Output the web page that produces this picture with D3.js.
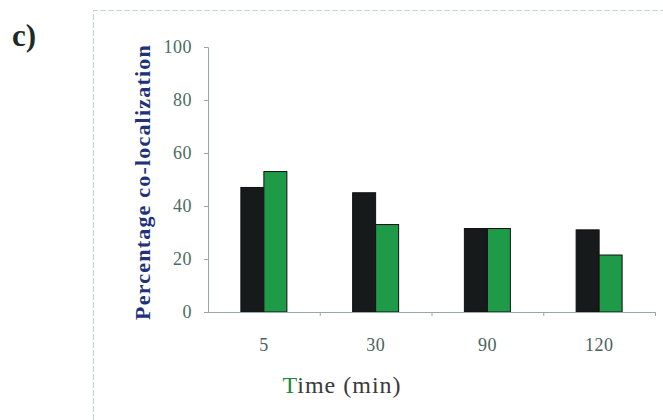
<!DOCTYPE html>
<html><head><meta charset="utf-8">
<script src="https://cdn.jsdelivr.net/npm/d3@7"></script>
<style>body{margin:0;background:#fff;} svg{display:block;}</style>
</head><body>
<script>
const categories = ["5", "30", "90", "120"];
const seriesA = [47, 45, 31.5, 31];   // black bars
const seriesB = [53, 33, 31.5, 21.5]; // green bars
const yTicks = [0, 20, 40, 60, 80, 100];

const W = 663, H = 420;
const svg = d3.select("body").append("svg").attr("width", W).attr("height", H);
const font = "'Liberation Serif', 'Times New Roman', serif";

// frame
svg.append("path").attr("d", `M93.5,${H} V10.5 H${W}`).attr("fill","none")
  .attr("stroke","#c4d6d0").attr("stroke-width",1).attr("stroke-dasharray","6,2");

svg.append("text").attr("x", 12).attr("y", 46).text("c)")
  .attr("font-family", font).attr("font-weight","bold").attr("font-size", 31).attr("fill","#1c2a28");

const x0 = d3.scaleBand().domain(categories).range([208, 655]).paddingInner(0).paddingOuter(0);
const y = d3.scaleLinear().domain([0, 100]).range([312, 47]);
const x1 = d3.scaleBand().domain(["a","b"]).range([0, 46]);

const g = svg.append("g");
categories.forEach((c, i) => {
  const cx = x0(c) + x0.bandwidth()/2 - 23;
  [["a", seriesA[i], "#161a1a"], ["b", seriesB[i], "#1f9a48"]].forEach(([k, v, col]) => {
    g.append("rect").attr("x", cx + x1(k)).attr("y", y(v)).attr("width", x1.bandwidth())
      .attr("height", y(0) - y(v)).attr("fill", col).attr("stroke","#111").attr("stroke-width",1);
  });
});

// y axis
const ya = svg.append("g").attr("transform","translate(208,0)")
  .call(d3.axisLeft(y).tickValues(yTicks).tickSize(4).tickPadding(12));
ya.select(".domain").attr("stroke","#9aa8a4");
ya.selectAll(".tick line").attr("stroke","#9aa8a4");
ya.selectAll("text").attr("font-family", font).attr("font-size", 18).attr("letter-spacing", 0.5).attr("fill","#4a6c62");

// x axis
const xa = svg.append("g").attr("transform","translate(0,312)")
  .call(d3.axisBottom(x0).tickSize(0).tickPadding(26));
xa.select(".domain").attr("stroke","#9aa8a4").attr("d","M208,0.5H655");
xa.selectAll("text").attr("font-family", font).attr("font-size", 18).attr("letter-spacing", 0.5).attr("fill","#4a625c");
// tick marks at band boundaries
const bounds = categories.map(c => x0(c)).concat([x0.range()[1]]);
svg.append("g").selectAll("line").data(bounds.slice(1)).join("line")
  .attr("x1", d => d + 0.5).attr("x2", d => d + 0.5).attr("y1", 312).attr("y2", 316)
  .attr("stroke","#9aa8a4");

// axis titles
svg.append("text").attr("transform","translate(150,182) rotate(-90)")
  .attr("text-anchor","middle").attr("font-family", font).attr("font-weight","bold")
  .attr("font-size", 22).attr("letter-spacing", 1.2).attr("fill","#22327a").text("Percentage co-localization");

const xt = svg.append("text").attr("x", 342).attr("y", 393).attr("text-anchor","middle")
  .attr("font-family", font).attr("font-size", 24).attr("letter-spacing", 1).attr("fill","#3a3a3a");
xt.append("tspan").attr("fill","#1f8a3a").text("T");
xt.append("tspan").text("ime (min)");
</script>
</body></html>
